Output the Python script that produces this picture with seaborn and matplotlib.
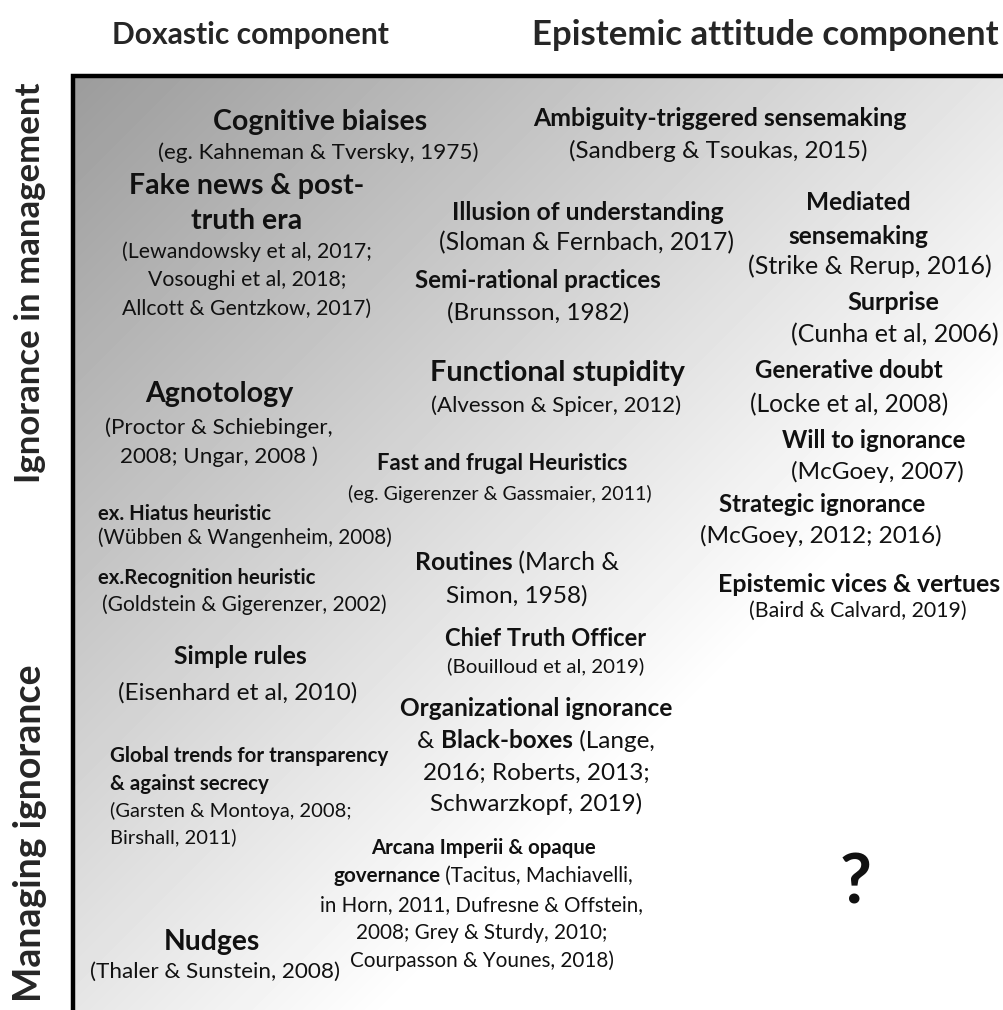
import numpy as np
import matplotlib
matplotlib.use("Agg")
import matplotlib.pyplot as plt
import seaborn as sns

sns.set_theme(style="white")
plt.rcParams["font.family"] = ["Lato", "DejaVu Sans"]

# Column and row headers
col_headers = ["Doxastic component", "Epistemic attitude component"]
row_headers = ["Ignorance in management", "Managing ignorance"]

# Literature items, one entry per printed line ("**" toggles bold)
lines = [
    "**Cognitive biaises**", "(eg. Kahneman & Tversky, 1975)",
    "**Ambiguity-triggered sensemaking**", "(Sandberg & Tsoukas, 2015)",
    "**Fake news & post-**", "**truth era**",
    "(Lewandowsky et al, 2017;", "Vosoughi et al, 2018;", "Allcott & Gentzkow, 2017)",
    "**Illusion of understanding**", "(Sloman & Fernbach, 2017)",
    "**Semi-rational practices**", "(Brunsson, 1982)",
    "**Mediated**", "**sensemaking**", "(Strike & Rerup, 2016)",
    "**Surprise**", "(Cunha et al, 2006)",
    "**Agnotology**", "(Proctor & Schiebinger,", "2008; Ungar, 2008 )",
    "**Functional stupidity**", "(Alvesson & Spicer, 2012)",
    "**Generative doubt**", "(Locke et al, 2008)",
    "**Will to ignorance**", "(McGoey, 2007)",
    "**Fast and frugal Heuristics**", "(eg. Gigerenzer & Gassmaier, 2011)",
    "**Strategic ignorance**", "(McGoey, 2012; 2016)",
    "**ex. Hiatus heuristic**", "(Wübben & Wangenheim, 2008)",
    "**ex.Recognition heuristic**", "(Goldstein & Gigerenzer, 2002)",
    "**Routines** (March &", "Simon, 1958)",
    "**Epistemic vices & vertues**", "(Baird & Calvard, 2019)",
    "**Chief Truth Officer**", "(Bouilloud et al, 2019)",
    "**Simple rules**", "(Eisenhard et al, 2010)",
    "**Organizational ignorance**", "& **Black-boxes** (Lange,",
    "2016; Roberts, 2013;", "Schwarzkopf, 2019)",
    "**Global trends for transparency**", "**& against secrecy**",
    "(Garsten & Montoya, 2008;", "Birshall, 2011)",
    "**Arcana Imperii & opaque**", "**governance** (Tacitus, Machiavelli,",
    "in Horn, 2011, Dufresne & Offstein,", "2008; Grey & Sturdy, 2010;",
    "Courpasson & Younes, 2018)",
    "**Nudges**", "(Thaler & Sunstein, 2008)",
    "**?**",
]

# Placement of each line in pixels: (x, y, font size, alignment)
layout = [
    (320, 122, 20.5, "center"), (318, 153, 16.2, "center"),
    (720, 119, 17.9, "center"), (718, 151, 17.5, "center"),
    (247, 186, 20.5, "center"), (247, 221, 20.5, "center"),
    (247, 252, 15.3, "center"), (247, 280, 15.3, "center"), (247, 309, 15.3, "center"),
    (588, 212, 17.8, "center"), (587, 243, 17.8, "center"),
    (538, 281, 17.4, "center"), (538, 313, 17.6, "center"),
    (858, 202, 17.6, "center"), (858, 236, 17.6, "center"), (870, 266, 18.0, "center"),
    (893, 303, 18.2, "center"), (895, 335, 18.0, "center"),
    (219, 394, 20.5, "center"), (219, 428, 16.1, "center"), (219, 457, 16.1, "center"),
    (557, 373, 20.7, "center"), (556, 406, 16.0, "center"),
    (849, 371, 17.3, "center"), (849, 405, 17.7, "center"),
    (874, 440, 17.4, "center"), (877, 472, 17.6, "center"),
    (502, 464, 15.9, "center"), (500, 494, 14.1, "center"),
    (822, 504, 17.3, "center"), (821, 536, 17.6, "center"),
    (98, 514, 14.6, "left"), (98, 538, 14.9, "left"),
    (98, 578, 14.6, "left"), (102, 605, 15.1, "left"),
    (517, 563, 17.8, "center"), (517, 596, 17.6, "center"),
    (859, 584, 17.9, "center"), (858, 611, 15.3, "center"),
    (546, 638, 17.0, "center"), (546, 666, 14.7, "center"),
    (240, 657, 17.8, "center"), (238, 693, 17.6, "center"),
    (536, 708, 17.6, "center"), (536, 741, 17.5, "center"),
    (536, 773, 17.5, "center"), (536, 804, 17.5, "center"),
    (110, 756, 14.8, "left"), (110, 784, 14.8, "left"),
    (110, 811, 14.5, "left"), (110, 837, 14.5, "left"),
    (483, 848, 14.7, "center"), (483, 876, 14.9, "center"),
    (482, 905, 14.8, "center"), (482, 933, 14.9, "center"),
    (482, 961, 14.9, "center"),
    (212, 942, 20.3, "center"), (215, 972, 16.2, "center"),
    (856, 884, 50, "center"),
]

W, H = 1004, 1010
fig = plt.figure(figsize=(W / 100, H / 100), dpi=100)
ax = fig.add_axes([0, 0, 1, 1])
ax.set_xlim(0, W)
ax.set_ylim(H, 0)
ax.axis("off")

# Grey diagonal gradient inside the frame
x0, y0 = 73, 76
xx, yy = np.meshgrid(np.arange(x0, W), np.arange(y0, H))
u = ((xx - x0) + (yy - y0)) / 1250.0
shade = np.clip(0.61 + 0.39 * u, 0, 1)
ax.imshow(shade, cmap="gray", vmin=0, vmax=1, extent=(x0, W, H, y0),
          aspect="auto", interpolation="bilinear", zorder=0)
ax.plot([x0, x0, W + 10], [H + 10, y0, y0], color="black", lw=3.2,
        solid_joinstyle="miter", zorder=2, clip_on=False)

# headers
ax.text(250, 35, col_headers[0], fontsize=21.6, fontweight="bold", ha="center", va="center")
ax.text(765, 35, col_headers[1], fontsize=25, fontweight="bold", ha="center", va="center")
ax.text(30, 283, row_headers[0], fontsize=25, fontweight="bold", ha="center", va="center", rotation=90)
ax.text(30, 833, row_headers[1], fontsize=27, fontweight="bold", ha="center", va="center", rotation=90)

renderer = fig.canvas.get_renderer()


def draw_line(s, x, y, size, ha):
    parts = s.split("**")
    segs = [(p, i % 2 == 1) for i, p in enumerate(parts) if p]
    texts, widths = [], []
    for p, bold in segs:
        t = ax.text(0, y, p, fontsize=size, fontweight="bold" if bold else "normal",
                    ha="left", va="center", color="#111111", zorder=3)
        widths.append(t.get_window_extent(renderer).width)
        texts.append(t)
    start = x - sum(widths) / 2 if ha == "center" else x
    for t, w in zip(texts, widths):
        t.set_x(start)
        start += w


for s, (x, y, size, ha) in zip(lines, layout):
    draw_line(s, x, y, size, ha)

fig.savefig("out.png", dpi=100)
